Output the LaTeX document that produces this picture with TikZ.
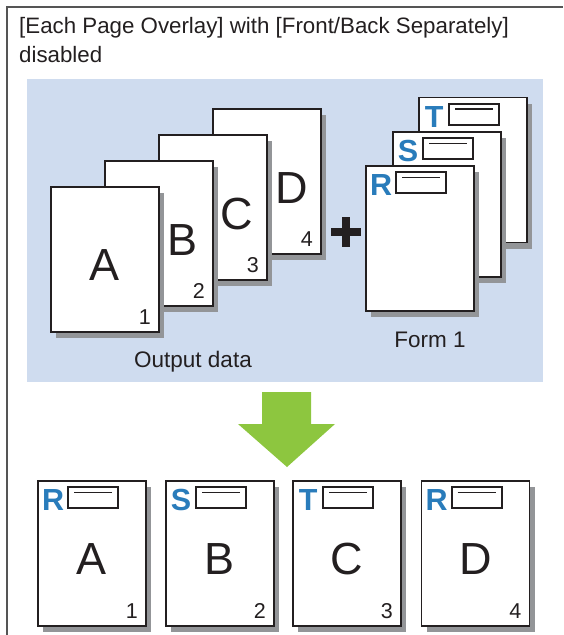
\documentclass[tikz,border=0pt]{standalone}
\usepackage{fontspec}
\setmainfont{Liberation Sans}
\usepackage{xcolor}
\definecolor{panelblue}{RGB}{207,220,239}
\definecolor{shadowgray}{RGB}{147,149,152}
\definecolor{inkblack}{RGB}{35,31,32}
\definecolor{formblue}{RGB}{41,124,187}
\definecolor{arrowgreen}{RGB}{141,198,63}
\definecolor{framegray}{RGB}{85,85,85}
\usepackage{tikz}
\usetikzlibrary{shadows}

\begin{document}
\begin{tikzpicture}[x=1pt, y=-1pt,
  page/.style={rectangle, draw=inkblack, line width=1.7pt, fill=white, inner sep=0pt,
               minimum width=108pt, minimum height=145pt,
               drop shadow={shadow xshift=5pt, shadow yshift=-6pt, fill=shadowgray, opacity=1}},
  formbox/.style={rectangle, draw=inkblack, line width=2pt, fill=white, inner sep=0pt,
               minimum width=50pt, minimum height=21pt,
               path picture={\draw[line width=1.5pt, inkblack]
                 ([xshift=6pt, yshift=-5.5pt]path picture bounding box.north west) --
                 ([xshift=-6pt, yshift=-5.5pt]path picture bounding box.north east);}},
  bigl/.style={inner sep=0pt, text=inkblack, font=\fontsize{45}{45}\selectfont},
  num/.style={inner sep=0pt, text=inkblack, font=\fontsize{21.5}{21.5}\selectfont},
  tag/.style={inner sep=0pt, text=formblue, font=\bfseries\fontsize{30.5}{30.5}\selectfont},
  lbl/.style={inner sep=0pt, anchor=base, text=inkblack, font=\fontsize{22.5}{22.5}\selectfont}
]
\useasboundingbox (0,0) rectangle (563,635);

%% frame and panel
\draw[framegray, line width=1.2pt] (7,635) -- (7,7) -- (563,7);
\node[inner sep=0pt, anchor=north west, align=left, text=inkblack,
      font=\fontsize{22.3}{29}\selectfont] (title) at (19,17.5)
  {[Each Page Overlay] with [Front/Back Separately]\\disabled};
\fill[panelblue] (27,79) rectangle (543,382);

%% output data
\node[page] (pD) at (267,181.5) {};
\node[bigl] (lD) at ([shift={(25,7)}]pD.center) {D};
\node[num]  (nD) at ([shift={(-15,-16)}]pD.south east) {4};
\node[page] (pC) at (213,207.5) {};
\node[bigl] (lC) at ([shift={(24,7)}]pC.center) {C};
\node[num]  (nC) at ([shift={(-15,-16)}]pC.south east) {3};
\node[page] (pB) at (159,233.5) {};
\node[bigl] (lB) at ([shift={(24,7)}]pB.center) {B};
\node[num]  (nB) at ([shift={(-15,-16)}]pB.south east) {2};
\node[page] (pA) at (105,259.5) {};
\node[bigl] (lA) at ([shift={(0,6)}]pA.center) {A};
\node[num]  (nA) at ([shift={(-15,-16)}]pA.south east) {1};
\node[lbl] (outlbl) at (193,367) {Output data};

%% plus
\draw[inkblack, line width=8.5pt] (331,232) -- (361,232) (346,217) -- (346,247);

%% form 1
\node[page]    (fT) at (473,170) {};
\node[tag]     (tT) at ([shift={(16,20)}]fT.north west) {T};
\node[formbox] (bT) at ([shift={(56,17.5)}]fT.north west) {};
\node[page]    (fS) at (447,204.5) {};
\node[tag]     (tS) at ([shift={(16,20)}]fS.north west) {S};
\node[formbox] (bS) at ([shift={(56,17.5)}]fS.north west) {};
\node[page]    (fR) at (420,238.5) {};
\node[tag]     (tR) at ([shift={(16,20)}]fR.north west) {R};
\node[formbox] (bR) at ([shift={(56,17.5)}]fR.north west) {};
\node[lbl] (formlbl) at (430,347) {Form 1};

%% result arrow
\fill[arrowgreen] (262,392) -- (311,392) -- (311,424) -- (335,424) -- (287,467)
  -- (238,424) -- (262,424) -- cycle;

%% printed result
\node[page]    (o1) at (92,553.5) {};
\node[tag]     (t1) at ([shift={(16,20)}]o1.north west) {R};
\node[formbox] (b1) at ([shift={(56,17.5)}]o1.north west) {};
\node[bigl]    (l1) at ([shift={(0,6)}]o1.center) {A};
\node[num]     (n1) at ([shift={(-15,-16)}]o1.south east) {1};
\node[page]    (o2) at (220,553.5) {};
\node[tag]     (t2) at ([shift={(16,20)}]o2.north west) {S};
\node[formbox] (b2) at ([shift={(56,17.5)}]o2.north west) {};
\node[bigl]    (l2) at ([shift={(0,6)}]o2.center) {B};
\node[num]     (n2) at ([shift={(-15,-16)}]o2.south east) {2};
\node[page]    (o3) at (347,553.5) {};
\node[tag]     (t3) at ([shift={(16,20)}]o3.north west) {T};
\node[formbox] (b3) at ([shift={(56,17.5)}]o3.north west) {};
\node[bigl]    (l3) at ([shift={(0,6)}]o3.center) {C};
\node[num]     (n3) at ([shift={(-15,-16)}]o3.south east) {3};
\node[page]    (o4) at (475.5,553.5) {};
\node[tag]     (t4) at ([shift={(16,20)}]o4.north west) {R};
\node[formbox] (b4) at ([shift={(56,17.5)}]o4.north west) {};
\node[bigl]    (l4) at ([shift={(0,6)}]o4.center) {D};
\node[num]     (n4) at ([shift={(-15,-16)}]o4.south east) {4};
\end{tikzpicture}
\end{document}
